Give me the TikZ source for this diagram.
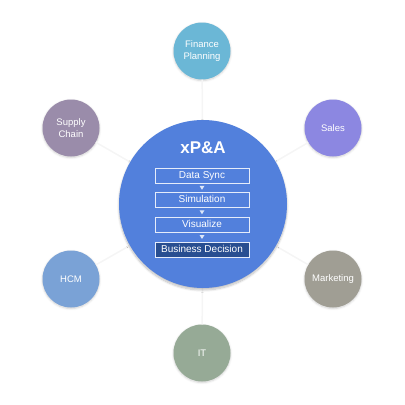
\documentclass[tikz,border=0pt]{standalone}
\usepackage{fontspec}
\setmainfont{Liberation Sans}
\usetikzlibrary{shadows.blur}
\definecolor{cmain}{RGB}{82,128,220}
\definecolor{cfin}{RGB}{107,183,214}
\definecolor{csup}{RGB}{154,140,170}
\definecolor{csal}{RGB}{140,135,225}
\definecolor{chcm}{RGB}{122,162,214}
\definecolor{cmkt}{RGB}{160,158,148}
\definecolor{cit}{RGB}{150,170,150}
\definecolor{cdec}{RGB}{40,78,145}
\begin{document}
\begin{tikzpicture}[x=1pt,y=-1pt,
  sat/.style={circle,minimum size=57pt,inner sep=0pt,text=white,font=\fontsize{9.5}{11.5}\selectfont,align=center,blur shadow={shadow blur steps=6,shadow xshift=0pt,shadow yshift=-1pt,shadow opacity=18}},
  spoke/.style={draw=black!4,line width=1.5pt},
  stepbox/.style={draw=white!85!cmain,line width=0.8pt,minimum width=94pt,minimum height=15pt,inner sep=0pt,text height=7.2pt,text depth=2pt,text=white,font=\fontsize{10}{11}\selectfont},
  tri/.style={fill=white!80!cmain,draw=none}
]
\useasboundingbox (0,0) rectangle (405,405);
\coordinate (c) at (203,204);
\node[sat,fill=cfin] (fin) at (202,51) {Finance\\Planning};
\node[sat,fill=csup] (sup) at (71,128) {Supply\\Chain};
\node[sat,fill=csal] (sal) at (333,128) {Sales};
\node[sat,fill=chcm] (hcm) at (71,279) {HCM};
\node[sat,fill=cmkt] (mkt) at (333,279) {Marketing};
\node[sat,fill=cit] (it) at (202,353) {IT};
\foreach \s in {fin,sup,sal,hcm,mkt,it}{\draw[spoke] (c) -- (\s);}
\node[circle,fill=cmain,minimum size=168pt,inner sep=0pt,blur shadow={shadow blur steps=8,shadow xshift=0pt,shadow yshift=-2pt,shadow opacity=25}] (main) at (c) {};
\node[text=white,font=\fontsize{17}{19}\selectfont\bfseries] (title) at (203,148) {xP\&A};
\node[stepbox] (s1) at (202,175.5) {Data Sync};
\node[stepbox] (s2) at (202,200) {Simulation};
\node[stepbox] (s3) at (202,224.5) {Visualize};
\node[stepbox,fill=cdec] (s4) at (202,249.5) {Business Decision};
\foreach \a/\b in {s1/s2,s2/s3,s3/s4}{
  \path (\a.south) -- (\b.north) coordinate[midway] (m);
  \fill[tri] ([xshift=-2.5pt,yshift=2pt]m) -- ([xshift=2.5pt,yshift=2pt]m) -- ([yshift=-2pt]m) -- cycle;
}
\end{tikzpicture}
\end{document}
